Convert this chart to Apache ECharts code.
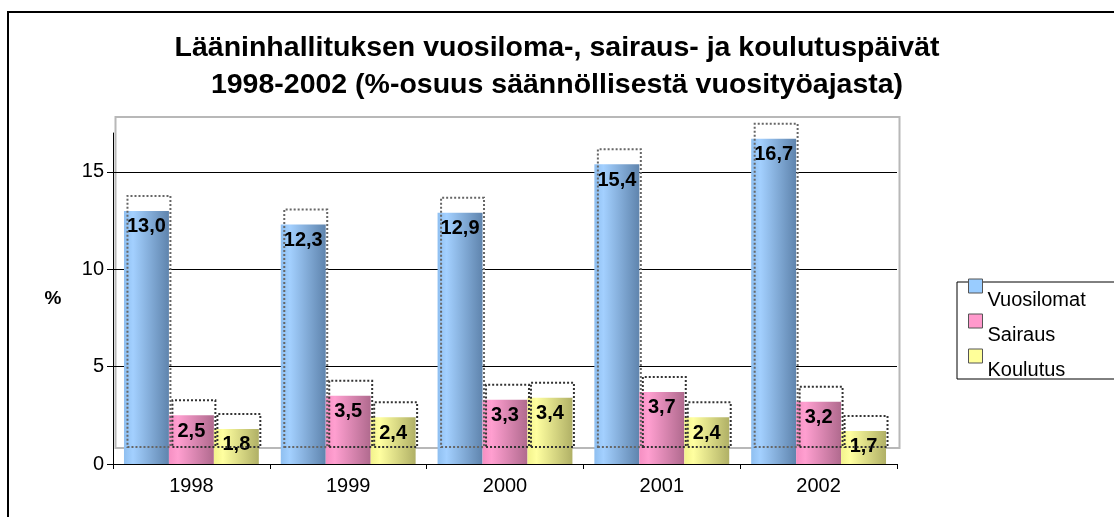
<!DOCTYPE html>
<html>
<head>
<meta charset="utf-8">
<script src="https://cdn.jsdelivr.net/npm/echarts@6/dist/echarts.min.js"></script>
<style>
  html, body { margin: 0; padding: 0; background: #fff; }
  #chart { width: 1114px; height: 517px; }
</style>
</head>
<body>
<div id="chart"></div>
<script>
  // Data
  const years = ['1998', '1999', '2000', '2001', '2002']
  const vuosilomat = [13.0, 12.3, 12.9, 15.4, 16.7]
  const sairaus = [2.5, 3.5, 3.3, 3.7, 3.2]
  const koulutus = [1.8, 2.4, 3.4, 2.4, 1.7]
  const yTicks = [0, 5, 10, 15]

  const FONT = '"Liberation Sans", Arial, sans-serif'

  const grad = (a, b, c) => new echarts.graphic.LinearGradient(0, 0, 1, 0, [
    { offset: 0, color: a }, { offset: 0.2, color: b }, { offset: 1, color: c },
  ])

  const seriesDefs = [
    { name: 'Vuosilomat', data: vuosilomat, fill: grad('#8fbff0', '#a3d0ff', '#5f84ad'), flat: '#99ccff', edge: '#666' },
    { name: 'Sairaus', data: sairaus, fill: grad('#f58fc2', '#ff9fd0', '#b06a8e'), flat: '#ff99cc', edge: '#333' },
    { name: 'Koulutus', data: koulutus, fill: grad('#f2f28c', '#ffffa0', '#b0b066'), flat: '#ffff99', edge: '#333' },
  ]

  const fmt = v => v.toFixed(1).replace('.', ',')

  const chart = echarts.init(document.getElementById('chart'))

  const bars = seriesDefs.map(s => ({
    name: s.name, type: 'bar', xAxisIndex: 0, yAxisIndex: 0,
    data: s.data, barGap: '0%', barCategoryGap: '14%', z: 2,
    itemStyle: { color: s.fill },
    label: {
      show: true, position: 'insideTop', distance: 6,
      formatter: p => fmt(p.value),
      fontFamily: FONT, fontSize: 20, fontWeight: 'bold', color: '#000',
    },
  }))

  // pseudo-3D back outlines, same values on a grid shifted up/right
  const outlines = seriesDefs.map(s => ({
    name: s.name, type: 'bar', xAxisIndex: 1, yAxisIndex: 1,
    data: s.data, barGap: '0%', barCategoryGap: '14%', z: 3, silent: true,
    itemStyle: { color: 'rgba(0,0,0,0)', borderColor: s.edge, borderWidth: 2, borderType: 'dotted' },
  }))

  const axisLabel = { fontFamily: FONT, fontSize: 20, color: '#000' }

  chart.setOption({
    animation: false,
    backgroundColor: '#fff',
    title: {
      text: 'Lääninhallituksen vuosiloma-, sairaus- ja koulutuspäivät\n1998-2002 (%-osuus säännöllisestä vuosityöajasta)',
      left: 'center', top: 25,
      textStyle: { fontFamily: FONT, fontSize: 28.5, fontWeight: 'bold', lineHeight: 37, color: '#000' },
    },
    legend: {
      orient: 'vertical', left: 968, top: 258, padding: 0,
      itemWidth: 14, itemHeight: 14, itemGap: -21, icon: 'rect',
      itemStyle: { borderColor: '#555', borderWidth: 1 },
      formatter: name => '\n' + name,
      textStyle: { fontFamily: FONT, fontSize: 20, color: '#000', lineHeight: 28 },
      data: seriesDefs.map(s => ({ name: s.name, itemStyle: { color: s.flat } })),
    },
    grid: [
      { left: 113, right: 217, top: 133, bottom: 53 },
      { left: 115.5, right: 214.5, top: 117, bottom: 69, show: true, borderColor: '#b8b8b8', borderWidth: 2, backgroundColor: 'rgba(0,0,0,0)' },
    ],
    xAxis: [
      {
        type: 'category', data: years, gridIndex: 0,
        axisLine: { lineStyle: { color: '#000', width: 1 } },
        axisTick: { show: true, length: 5, lineStyle: { color: '#000' } },
        axisLabel: { ...axisLabel, margin: 12 },
      },
      { type: 'category', data: years, gridIndex: 1, show: false },
    ],
    yAxis: [
      {
        type: 'value', gridIndex: 0, min: 0, max: 17, interval: 5,
        name: '%', nameLocation: 'middle', nameRotate: 0, nameGap: 60,
        nameTextStyle: { fontFamily: FONT, fontSize: 19, fontWeight: 'bold', color: '#000', align: 'center', verticalAlign: 'middle', padding: [33, 0, 0, 0] },
        axisLine: { show: true, lineStyle: { color: '#000', width: 1 } },
        axisTick: { show: true, length: 6, lineStyle: { color: '#000' }, customValues: yTicks },
        axisLabel: { ...axisLabel, margin: 9, customValues: yTicks },
        splitLine: { show: true, lineStyle: { color: '#000', width: 1 } },
      },
      { type: 'value', gridIndex: 1, min: 0, max: 17, interval: 5, show: false, splitLine: { show: false } },
    ],
    graphic: [
      // outer chart frame
      { type: 'rect', shape: { x: 8, y: 12, width: 1130, height: 530 }, style: { fill: 'none', stroke: '#000', lineWidth: 2 }, silent: true, z: 0 },
      // legend box
      { type: 'rect', shape: { x: 957, y: 282, width: 200, height: 97 }, style: { fill: 'none', stroke: '#000', lineWidth: 1 }, silent: true, z: 0 },
    ],
    series: [...bars, ...outlines],
  })
</script>
</body>
</html>
